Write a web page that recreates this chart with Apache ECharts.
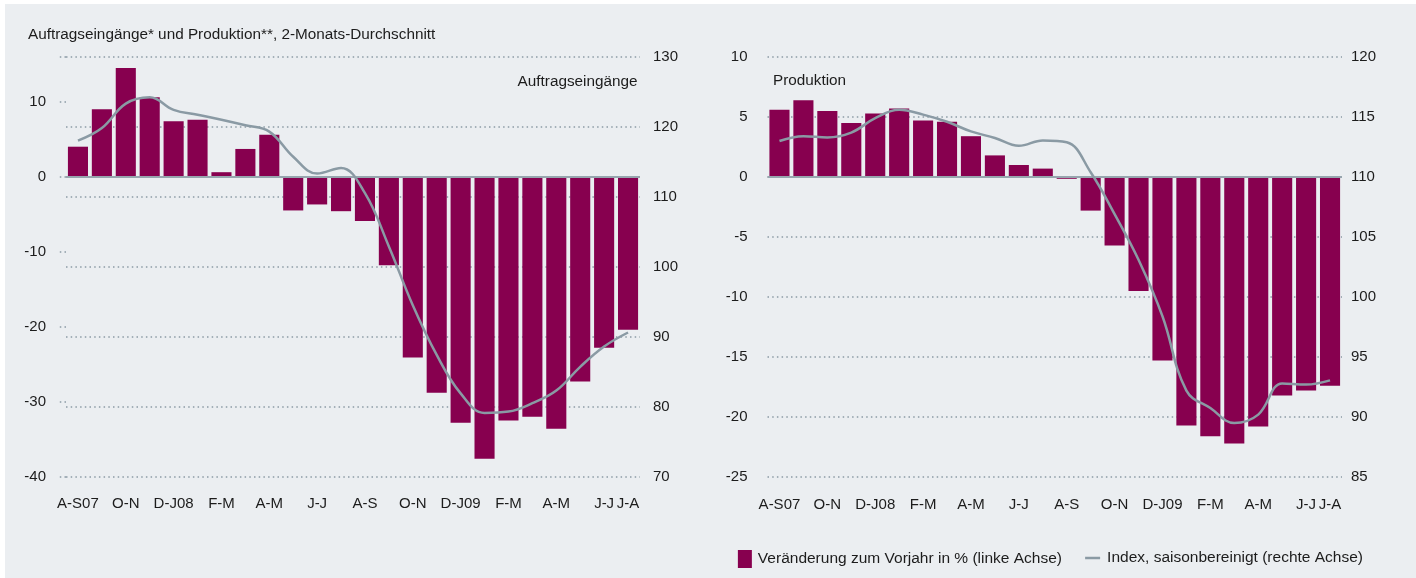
<!DOCTYPE html>
<html>
<head>
<meta charset="utf-8">
<script src="https://cdn.jsdelivr.net/npm/echarts@6/dist/echarts.min.js"></script>
<style>
  html, body { margin: 0; padding: 0; background: #ffffff; }
  #chart { width: 1416px; height: 578px; }
</style>
</head>
<body>
<div id="chart"></div>
<script>
// ---- Data ----
const categories = ['A-S07','S-O','O-N','N-D','D-J08','J-F','F-M','M-A','A-M','M-J','J-J','J-A',
                    'A-S','S-O','O-N','N-D','D-J09','J-F','F-M','M-A','A-M','M-J','J-J','J-A'];
const labelledIndices = [0, 2, 4, 6, 8, 10, 12, 14, 16, 18, 20, 22, 23];

// Auftragseingänge (orders)
const ordersChange = [4.0, 9.0, 14.5, 10.6, 7.4, 7.6, 0.6, 3.7, 5.6, -4.5, -3.7, -4.6,
                      -5.9, -11.8, -24.1, -28.8, -32.8, -37.6, -32.5, -32.0, -33.6, -27.3, -22.8, -20.4];
const ordersIndex  = [118.0, 119.8, 123.3, 124.2, 122.4, 121.7, 121.0, 120.2, 119.3, 115.7, 113.3, 114.1,
                      110.5, 102.9, 94.5, 87.4, 81.9, 79.1, 79.3, 80.5, 82.3, 85.7, 88.6, 90.6];

// Produktion (production)
const prodChange = [5.6, 6.4, 5.5, 4.5, 5.3, 5.7, 4.7, 4.6, 3.4, 1.8, 1.0, 0.7,
                    -0.15, -2.8, -5.7, -9.5, -15.3, -20.7, -21.6, -22.2, -20.8, -18.2, -17.8, -17.4];
const prodIndex  = [113.0, 113.4, 113.3, 113.7, 114.9, 115.6, 115.2, 114.6, 113.8, 113.25, 112.6, 113.05,
                    112.9, 110.4, 106.9, 103.1, 98.4, 92.2, 90.75, 89.5, 90.2, 92.8, 92.7, 93.05];

const titleText = 'Auftragseingänge* und Produktion**, 2-Monats-Durchschnitt';
const ordersLabel = 'Auftragseingänge';
const prodLabel = 'Produktion';
const barName = 'Veränderung zum Vorjahr in % (linke Achse)';
const lineName = 'Index, saisonbereinigt (rechte Achse)';

// ---- Styles ----
const FONT = '"Liberation Sans", Arial, sans-serif';
const TEXT = '#1c1c1c';
const BAR = '#87004F';
const LINE = '#8A9AA4';
const GRID = '#8C9BA5';
const dotted = { color: GRID, width: 1.5, type: [1.5, 3.2] };
const labelText = { fontSize: 15.3, fontWeight: 'normal', color: TEXT, fontFamily: FONT };

const chart = echarts.init(document.getElementById('chart'), null, { renderer: 'canvas' });

function xAxisFor(grid) {
  return {
    type: 'category', gridIndex: grid, data: categories,
    boundaryGap: true,
    axisLine: { show: false }, axisTick: { show: false },
    axisLabel: {
      interval: (i) => labelledIndices.includes(i),
      color: TEXT, fontFamily: FONT, fontSize: 15, margin: 20
    },
    splitLine: { show: false }
  };
}

const option = {
  animation: false,
  textStyle: { fontFamily: FONT },
  graphic: [{
    type: 'rect', left: 5, top: 4, z: -100, silent: true,
    shape: { width: 1411, height: 574 },
    style: { fill: '#EBEEF1' }
  }],
  title: [
    { text: titleText, left: 28, top: 27.5, padding: 0, textStyle: labelText },
    { text: ordersLabel, right: 778.5, top: 74.5, padding: 0, textStyle: labelText },
    { text: prodLabel, left: 773, top: 73.5, padding: 0, textStyle: labelText }
  ],
  legend: [
    { right: 354, top: 550, padding: 0,
      itemWidth: 14, itemHeight: 18, itemGap: 0,
      textStyle: { fontSize: 15.5, color: TEXT, fontFamily: FONT, padding: [0, 0, 0, 1] },
      data: [{ name: barName, icon: 'rect' }] },
    { right: 53, top: 550, padding: 0, height: 18,
      itemWidth: 15, itemHeight: 2.5, itemGap: 0,
      textStyle: { fontSize: 15.5, color: TEXT, fontFamily: FONT, padding: [0, 0, 0, 2] },
      data: [{ name: lineName, icon: 'rect', itemStyle: { color: LINE } }] }
  ],
  grid: [
    { left: 66, right: 776, top: 56.7, height: 420 },
    { left: 767.5, right: 74, top: 57, height: 420 }
  ],
  xAxis: [xAxisFor(0), xAxisFor(1)],
  yAxis: [
    { type: 'value', gridIndex: 0, position: 'left', min: -40, max: 16, interval: 10,
      axisLine: { show: false },
      axisTick: { show: true, inside: false, length: 7, lineStyle: dotted },
      axisLabel: { color: TEXT, fontSize: 15, fontFamily: FONT, margin: 20,
                   formatter: (v) => (v % 10 === 0 ? String(v) : '') },
      splitLine: { show: false } },
    { type: 'value', gridIndex: 0, position: 'right', min: 70, max: 130, interval: 10,
      axisLine: { show: false }, axisTick: { show: false },
      axisLabel: { color: TEXT, fontSize: 15, fontFamily: FONT, margin: 13 },
      splitLine: { show: true, lineStyle: dotted } },
    { type: 'value', gridIndex: 1, position: 'left', min: -25, max: 10, interval: 5,
      axisLine: { show: false }, axisTick: { show: false },
      axisLabel: { color: TEXT, fontSize: 15, fontFamily: FONT, margin: 20 },
      splitLine: { show: false } },
    { type: 'value', gridIndex: 1, position: 'right', min: 85, max: 120, interval: 5,
      axisLine: { show: false }, axisTick: { show: false },
      axisLabel: { color: TEXT, fontSize: 15, fontFamily: FONT, margin: 9 },
      splitLine: { show: true, lineStyle: dotted } }
  ],
  series: [
    { name: barName, type: 'bar', xAxisIndex: 0, yAxisIndex: 0, data: ordersChange,
      barCategoryGap: '16%', itemStyle: { color: BAR },
      markLine: { silent: true, symbol: 'none', label: { show: false },
                  lineStyle: { color: '#97A5AE', width: 2, type: 'solid' },
                  data: [{ yAxis: 0 }] } },
    { name: lineName, type: 'line', xAxisIndex: 0, yAxisIndex: 1, data: ordersIndex,
      smooth: 0.4, symbol: 'none', lineStyle: { color: LINE, width: 2.5 }, itemStyle: { color: LINE }, z: 5 },
    { name: barName, type: 'bar', xAxisIndex: 1, yAxisIndex: 2, data: prodChange,
      barCategoryGap: '16%', itemStyle: { color: BAR },
      markLine: { silent: true, symbol: 'none', label: { show: false },
                  lineStyle: { color: '#97A5AE', width: 2, type: 'solid' },
                  data: [{ yAxis: 0 }] } },
    { name: lineName, type: 'line', xAxisIndex: 1, yAxisIndex: 3, data: prodIndex,
      smooth: 0.4, symbol: 'none', lineStyle: { color: LINE, width: 2.5 }, itemStyle: { color: LINE }, z: 5 }
  ]
};
chart.setOption(option);
</script>
</body>
</html>
